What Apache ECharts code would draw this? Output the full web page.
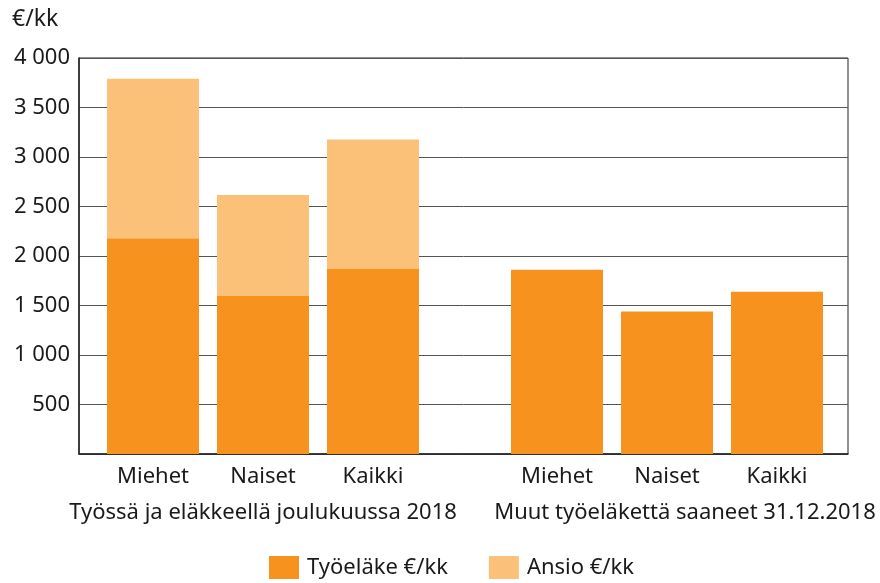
<!DOCTYPE html>
<html>
	<head>
		<meta charset="utf-8">
		<title>Työeläke ja ansio</title>
		<script src="https://cdn.jsdelivr.net/npm/echarts@6/dist/echarts.min.js"></script>
		<style>
			* {
				margin: 0;
				padding: 0;
			}
			body {
				background: #fff;
			}
			#main {
				width: 880px;
				height: 583px;
			}
		</style>
	</head>
	<body>
		<div id="main"></div>
		<script>
			let myFont = 'Noto Sans';
			let myColor = ["#F7921E", "#FCC179"];
			let textColor = "#1a1a1a";

			// ryhmät ja kategoriat
			let titleData = ['Miehet', 'Naiset', 'Kaikki'];
			let groupNames = ['Työssä ja eläkkeellä joulukuussa 2018', 'Muut työeläkettä saaneet 31.12.2018'];
			let seriesNames = ['Työeläke €/kk', 'Ansio €/kk'];

			// arvot €/kk
			let tyoelake1 = [2180, 1595, 1868];
			let ansio1 = [1610, 1020, 1310]; // pinottu työeläkkeen päälle
			let tyoelake2 = [1860, 1440, 1640];

			// y-akseli
			let yMin = 0;
			let yMax = 4000;
			let yStep = 500;

			let myChart = echarts.init(document.getElementById('main'));

			function yLabel(v) {
				if (v === 0) return '';
				return String(v).replace(/\B(?=(\d{3})+(?!\d))/g, ' ');
			}

			let hiddenY = function(i) {
				return {
					type: 'value',
					gridIndex: i,
					min: yMin,
					max: yMax,
					interval: yStep,
					show: false
				};
			};

			let groupX = function(i, pad) {
				return {
					type: 'category',
					gridIndex: i,
					data: titleData,
					axisLine: { show: false },
					axisTick: { show: false },
					axisLabel: {
						color: textColor,
						fontSize: 22,
						fontFamily: myFont,
						margin: 12
					},
					name: groupNames[i - 1],
					nameLocation: 'middle',
					nameGap: 48,
					nameTextStyle: {
						color: textColor,
						fontSize: 22,
						fontFamily: myFont,
						padding: pad
					}
				};
			};

			let option = {
				animation: false,
				color: myColor,
				title: {
					text: '€/kk',
					left: 12,
					top: 8,
					padding: 0,
					textStyle: {
						color: textColor,
						fontSize: 23,
						fontWeight: 'normal',
						fontFamily: myFont
					}
				},
				legend: {
					bottom: 4,
					left: 269,
					padding: 0,
					itemWidth: 30,
					itemHeight: 23,
					itemGap: 41,
					icon: 'rect',
					textStyle: {
						color: textColor,
						fontSize: 22,
						fontFamily: myFont,
						padding: [0, 0, 0, 3]
					},
					data: seriesNames
				},
				grid: [
					{ left: 79, right: 32, top: 58, bottom: 129, show: true, borderColor: '#222', borderWidth: 1 },
					{ left: 98, width: 330, top: 58, bottom: 129 },
					{ left: 502, width: 330, top: 58, bottom: 129 }
				],
				xAxis: [
					{
						type: 'category',
						gridIndex: 0,
						data: [''],
						axisLine: { show: true, lineStyle: { color: '#222', width: 1.5 } },
						axisTick: { show: false },
						axisLabel: { show: false }
					},
					groupX(1, [0, 0, 0, 0]),
					groupX(2, [0, 0, 0, 36])
				],
				yAxis: [
					{
						type: 'value',
						gridIndex: 0,
						min: yMin,
						max: yMax,
						interval: yStep,
						axisLine: { show: true, lineStyle: { color: '#222', width: 1.5 } },
						axisTick: { show: false },
						axisLabel: {
							color: textColor,
							fontSize: 22,
							fontFamily: myFont,
							margin: 9,
							formatter: yLabel
						},
						splitLine: {
							show: true,
							lineStyle: { color: '#555', width: 1 }
						}
					},
					hiddenY(1),
					hiddenY(2)
				],
				series: [
					{
						name: seriesNames[0],
						type: 'bar',
						xAxisIndex: 1,
						yAxisIndex: 1,
						stack: 'a',
						barWidth: 92,
						data: tyoelake1
					},
					{
						name: seriesNames[1],
						type: 'bar',
						xAxisIndex: 1,
						yAxisIndex: 1,
						stack: 'a',
						barWidth: 92,
						data: ansio1
					},
					{
						name: seriesNames[0],
						type: 'bar',
						xAxisIndex: 2,
						yAxisIndex: 2,
						barWidth: 92,
						data: tyoelake2
					}
				]
			};
			myChart.setOption(option);
		</script>
	</body>
</html>
